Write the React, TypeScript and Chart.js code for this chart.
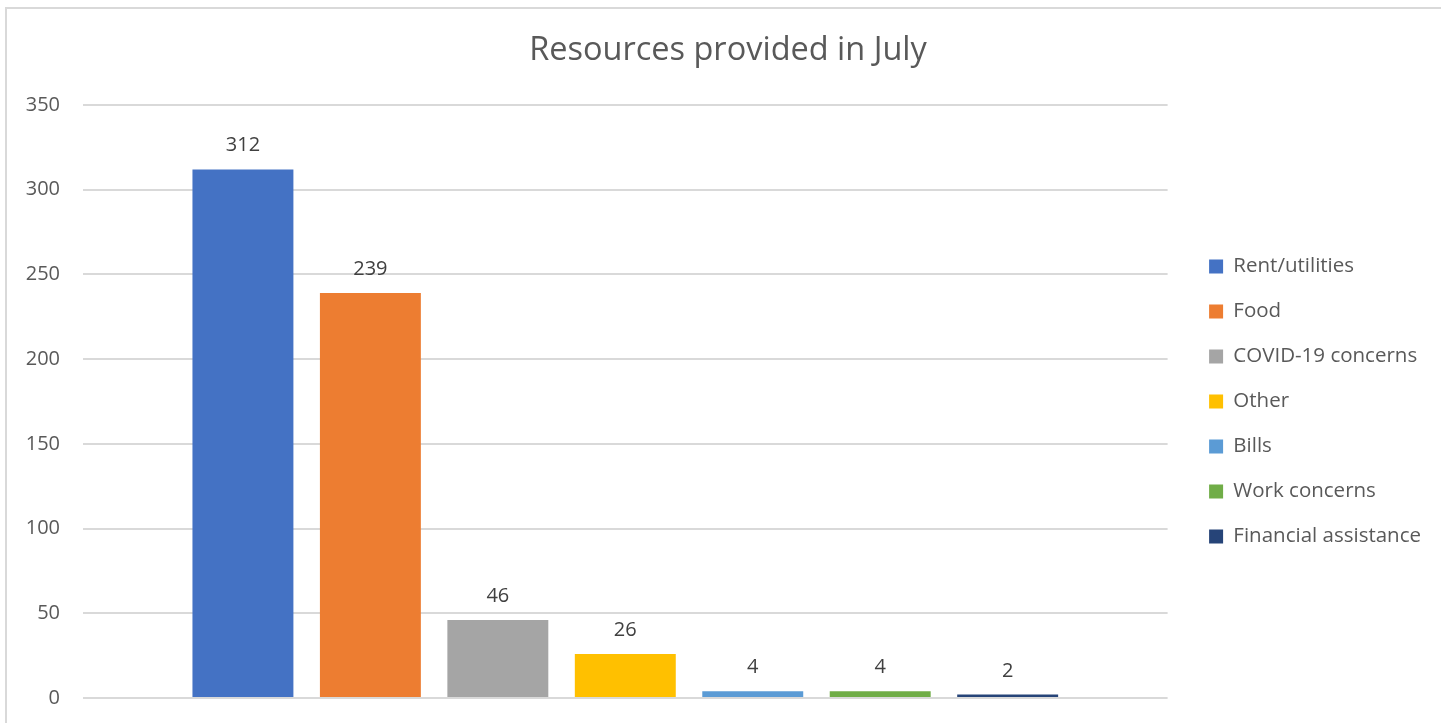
import React, { useEffect, useRef } from "react";
import { Chart, registerables } from "chart.js";

Chart.register(...registerables);

const chartTitle = "Resources provided in July";
const categories = [
  "Rent/utilities",
  "Food",
  "COVID-19 concerns",
  "Other",
  "Bills",
  "Work concerns",
  "Financial assistance",
];
const values = [312, 239, 46, 26, 4, 4, 2];
const colors = ["#4472C4", "#ED7D31", "#A5A5A5", "#FFC000", "#5B9BD5", "#70AD47", "#264478"];
const yTicks = [0, 50, 100, 150, 200, 250, 300, 350];

const FONT = '"Open Sans", sans-serif';
const PLOT_RIGHT = 1168;
const PAD_RIGHT = 10;
const GAP_RIGHT = 17;
const LEG_FONT = 20.5;
const LEG_PAD = 24.5;
const LEG_BOX = 14;

const valueLabels = {
  id: "valueLabels",
  afterDatasetsDraw(chart: any) {
    const ctx = chart.ctx;
    ctx.save();
    ctx.font = `20px ${FONT}`;
    ctx.fillStyle = "#404040";
    ctx.textAlign = "center";
    ctx.textBaseline = "alphabetic";
    chart.data.datasets.forEach((ds: any, i: number) => {
      const meta = chart.getDatasetMeta(i);
      meta.data.forEach((el: any, j: number) => {
        ctx.fillText(String(ds.data[j]), el.x, el.y - 18);
      });
    });
    ctx.restore();
  },
};

export default function App() {
  const ref = useRef<HTMLCanvasElement | null>(null);

  useEffect(() => {
    if (!ref.current) return;
    const chart = new Chart(ref.current, {
      type: "bar",
      data: {
        labels: ["July"],
        datasets: categories.map((c, i) => ({
          label: c,
          data: [values[i]],
          backgroundColor: colors[i],
          borderWidth: 0,
          categoryPercentage: 0.8226,
          barPercentage: 0.792,
        })),
      },
      options: {
        responsive: false,
        animation: false,
        devicePixelRatio: 1,
        layout: { padding: { left: 25, right: PAD_RIGHT, top: 0, bottom: 25 } },
        plugins: {
          title: {
            display: true,
            text: chartTitle,
            color: "#595959",
            font: { family: FONT, size: 32.5, weight: "normal" },
            padding: { top: 31, bottom: 35 },
          },
          legend: {
            position: "right",
            fullSize: false,
            labels: {
              boxWidth: LEG_BOX,
              boxHeight: LEG_BOX,
              padding: LEG_PAD,
              color: "#595959",
              font: { family: FONT, size: LEG_FONT },
            },
          },
          tooltip: { enabled: false },
        },
        scales: {
          x: { display: false },
          y: {
            min: 0,
            max: 350,
            afterBuildTicks: (s: any) => {
              s.ticks = yTicks.map((v) => ({ value: v }));
            },
            ticks: { padding: 23, color: "#595959", font: { family: FONT, size: 20 } },
            grid: { color: "#d9d9d9", lineWidth: 2, drawTicks: false },
            border: { display: false },
            afterFit: (s: any) => {
              s.width = 58;
              s.paddingTop = 0;
              s.paddingBottom = 0;
            },
          },
          yR: {
            position: "right",
            display: false,
            weight: 0,
            afterFit: (s: any) => {
              s.width = GAP_RIGHT;
            },
          },
          yR2: {
            position: "right",
            display: false,
            weight: 2000,
            afterFit: (s: any) => {
              const ctx = s.ctx;
              ctx.save();
              ctx.font = `normal ${LEG_FONT}px ${FONT}`;
              const tw = Math.max(...categories.map((c) => ctx.measureText(c).width));
              ctx.restore();
              const lw = LEG_PAD + LEG_BOX + LEG_FONT + tw;
              s.width = Math.max(0, 1441 - PAD_RIGHT - PLOT_RIGHT - GAP_RIGHT - lw);
            },
          },
        },
      } as any,
      plugins: [valueLabels],
    });
    return () => chart.destroy();
  }, []);

  return (
    <div
      style={{
        position: "fixed",
        left: 0,
        top: 0,
        width: 1441,
        height: 723,
        overflow: "hidden",
        background: "#fff",
      }}
    >
      <div
        style={{
          position: "absolute",
          left: 5,
          top: 7,
          width: 1460,
          height: 740,
          border: "2px solid #d9d9d9",
          boxSizing: "border-box",
        }}
      />
      <canvas
        ref={ref}
        width={1441}
        height={723}
        style={{ position: "absolute", left: 0, top: 0, width: 1441, height: 723 }}
      />
    </div>
  );
}
